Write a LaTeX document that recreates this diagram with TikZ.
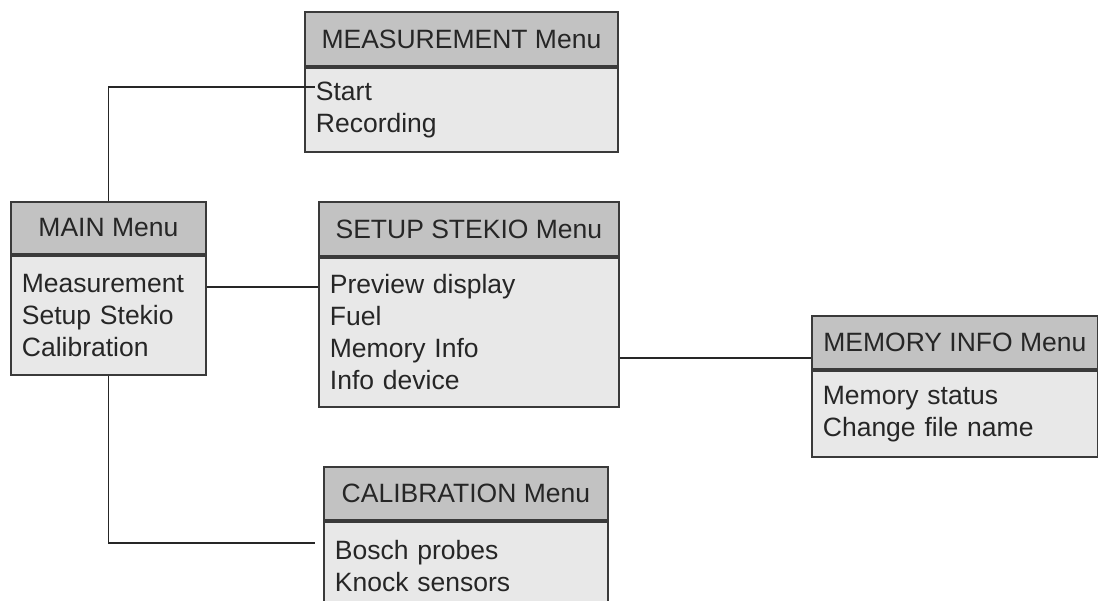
\documentclass[tikz,border=0pt]{standalone}
\usepackage{fontspec}
\setmainfont{Liberation Sans}
\definecolor{hdrgray}{HTML}{C2C2C2}
\definecolor{bodygray}{HTML}{E8E8E8}
\definecolor{edgegray}{HTML}{3A3A3A}
\begin{document}
\begin{tikzpicture}[x=1pt,y=-1pt,
  hdr/.style={draw=edgegray,line width=1.8pt,fill=hdrgray,anchor=north west,inner sep=0pt,
    font=\fontsize{26.5}{32}\selectfont,text=black!85},
  bodybox/.style={draw=edgegray,line width=1.8pt,fill=bodygray,anchor=north west,inner xsep=11pt,inner ysep=0pt,
    align=left,font=\fontsize{26.5}{32}\selectfont,text=black!85},
  conn/.style={draw=black!85,line width=1.8pt}]
\clip (0,0) rectangle (1098,600);
\fill[white] (0,0) rectangle (1098,600);
% MEASUREMENT
\node[hdr,minimum width=313pt,minimum height=54pt] (measH) at (304,11) {MEASUREMENT Menu};
\node[bodybox,text width=291pt,minimum height=84pt] (measB) at (measH.south west) {Start\\Recording};
% MAIN
\node[hdr,minimum width=195pt,minimum height=52pt] (mainH) at (10,201) {MAIN Menu};
\node[bodybox,text width=173pt,minimum height=119pt] (mainB) at (mainH.south west) {Measurement\\Setup Stekio\\Calibration};
% SETUP
\node[hdr,minimum width=300pt,minimum height=54pt] (setH) at (318,201) {SETUP STEKIO Menu};
\node[bodybox,text width=278pt,minimum height=149pt] (setB) at (setH.south west) {Preview display\\Fuel\\Memory Info\\Info device};
% MEMORY INFO
\node[hdr,minimum width=286pt,minimum height=53pt] (memH) at (811,315) {MEMORY INFO Menu};
\node[bodybox,text width=264pt,minimum height=86pt] (memB) at (memH.south west) {Memory status\\Change file name};
% CALIBRATION
\node[hdr,minimum width=284pt,minimum height=53pt] (calH) at (323,466) {CALIBRATION Menu};
\node[bodybox,text width=262pt,minimum height=88pt] (calB) at (calH.south west) {Bosch probes\\Knock sensors};
% connectors
\coordinate (startEnd) at (315,87);
\coordinate (calEnd) at (315,543);
\draw[conn] (mainH.north) |- (startEnd);
\draw[conn] (mainB.east |- 0,287) -- (setB.west |- 0,287);
\draw[conn] (setB.east |- 0,358) -- (memH.west |- 0,358);
\draw[conn] (mainB.south) |- (calEnd);
\end{tikzpicture}
\end{document}
